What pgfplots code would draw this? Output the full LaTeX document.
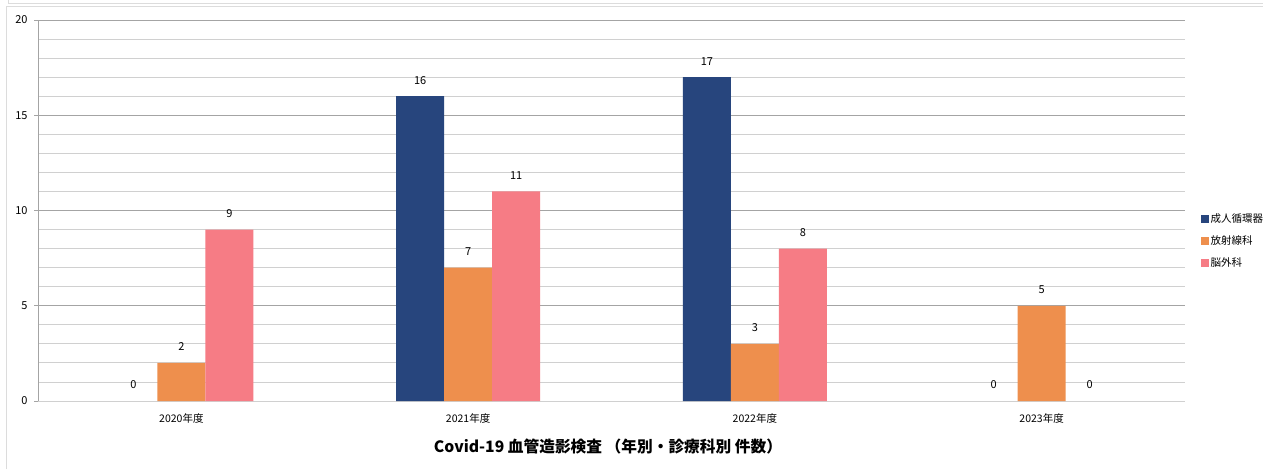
\documentclass[border=0pt]{standalone}
\usepackage{pgfplots}
\pgfplotsset{compat=1.18}
\usepackage{fontspec}
\setmainfont{Noto Sans CJK JP}
\definecolor{cblue}{HTML}{27457D}
\definecolor{corange}{HTML}{EE8F4D}
\definecolor{cpink}{HTML}{F67C85}
\definecolor{gmajor}{HTML}{A4A4A4}
\definecolor{gminor}{HTML}{D0D0D0}
\definecolor{frame}{HTML}{DCDCDC}
\begin{document}
\begin{tikzpicture}[x=1pt,y=1pt]
\useasboundingbox (0,0) rectangle (1263,469);
\fill[white] (0,0) rectangle (1263,469);
\draw[frame,line width=1pt] (8,469) -- (8,465.5) -- (1263,465.5);
\draw[frame,line width=1pt] (6.5,0) -- (6.5,462) -- (1263,462);
\begin{axis}[
  at={(38pt,68pt)}, anchor=south west,
  scale only axis, width=1147pt, height=381pt,
  ybar, bar width=48pt,
  xmin=-0.5, xmax=3.5, ymin=0, ymax=20,
  xtick={0,1,2,3},
  xticklabels={2020年度,2021年度,2022年度,2023年度},
  ytick={0,5,10,15,20},
  minor y tick num=4,
  ymajorgrids, yminorgrids,
  major grid style={draw=gmajor, line width=0.9pt},
  minor grid style={draw=gminor, line width=0.9pt},
  axis lines=left,
  axis line style={-},
  x axis line style={draw=gminor, line width=0.9pt},
  y axis line style={draw=gmajor, line width=0.9pt},
  major tick length=4pt, minor tick length=0pt,
  ytick style={draw=gmajor, line width=0.9pt},
  xtick style={draw=none},
  tick align=outside,
  yticklabel style={font=\fontsize{11}{13}\selectfont, xshift=-3pt},
  xticklabel style={font=\fontsize{10.5}{12}\selectfont, yshift=-5pt},
  /pgf/number format/assume math mode=true,
  nodes near coords,
  every node near coord/.append style={font=\fontsize{11}{13}\selectfont, anchor=center, yshift=16pt, color=black},
  legend style={at={(1.0135,0.42)}, anchor=west, draw=none, fill=none,
    font=\fontsize{10.5}{12}\selectfont, row sep=7.5pt, inner sep=0pt,
    /tikz/every even column/.append style={column sep=3pt}},
  legend cell align=left,
  legend image code/.code={\fill[#1] (0pt,-4pt) rectangle (8pt,4pt);},
  clip=false,
]
\addplot[fill=cblue, draw=none, bar shift=-48pt] coordinates {(1,16) (2,17)};
\addplot[fill=corange, draw=none, bar shift=0pt] coordinates {(0,2) (1,7) (2,3) (3,5)};
\addplot[fill=cpink, draw=none, bar shift=48pt] coordinates {(0,9) (1,11) (2,8)};
\addplot[fill=none, draw=none, bar shift=-48pt, forget plot] coordinates {(0,0) (3,0)};
\addplot[fill=none, draw=none, bar shift=48pt, forget plot] coordinates {(3,0)};
\legend{成人循環器,放射線科,脳外科}
\end{axis}
\node[font=\bfseries\fontsize{15.7}{18}\selectfont] at (608,22) {Covid-19 血管造影検査 （年別・診療科別 件数）};
\end{tikzpicture}
\end{document}
